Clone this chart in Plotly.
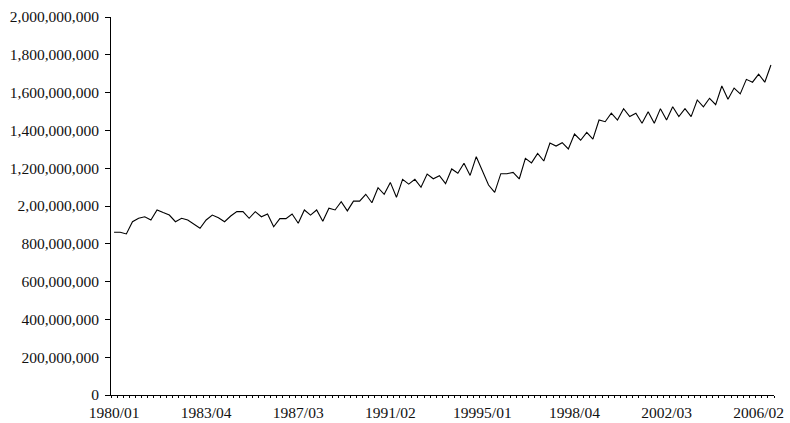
import plotly.graph_objects as go

# Quarterly series, 1980 Q1 .. 2006 Q4 (values in units)
values_millions = [
    861, 861, 852, 917, 935, 943, 926, 979, 965, 952,
    917, 935, 926, 905, 882, 926, 952, 938, 917, 947,
    970, 970, 935, 970, 943, 958, 890, 933, 933, 958,
    909, 979, 952, 979, 919, 988, 979, 1023, 974, 1026,
    1026, 1062, 1017, 1097, 1062, 1125, 1046, 1141, 1116, 1141,
    1099, 1169, 1144, 1160, 1118, 1196, 1173, 1226, 1162, 1261,
    1185, 1111, 1072, 1171, 1171, 1178, 1143, 1252, 1228, 1278,
    1238, 1333, 1317, 1335, 1302, 1381, 1348, 1390, 1354, 1455,
    1446, 1491, 1455, 1515, 1473, 1491, 1438, 1499, 1438, 1515,
    1455, 1525, 1473, 1515, 1473, 1561, 1525, 1570, 1536, 1635,
    1565, 1624, 1593, 1670, 1655, 1698, 1655, 1746,
]
values = [v * 1_000_000 for v in values_millions]
quarters = [f"{1980 + i // 4}/{i % 4 + 1:02d}" for i in range(len(values))]
x_index = list(range(len(values)))

x_tick_index = [0, 15, 30, 45, 60, 75, 90, 105]
x_tick_labels = ["1980/01", "1983/04", "1987/03", "1991/02", "19995/01",
                 "1998/04", "2002/03", "2006/02"]

y_tick_values = [0, 200_000_000, 400_000_000, 600_000_000, 800_000_000,
                 1_000_000_000, 1_200_000_000, 1_400_000_000, 1_600_000_000,
                 1_800_000_000, 2_000_000_000]
y_tick_labels = ["0", "200,000,000", "400,000,000", "600,000,000", "800,000,000",
                 "2,00,000,000", "1,200,000,000", "1,400,000,000", "1,600,000,000",
                 "1,800,000,000", "2,000,000,000"]

fig = go.Figure()
fig.add_trace(go.Scatter(
    x=x_index, y=values, mode="lines",
    line=dict(color="black", width=1.1),
    text=quarters, hoverinfo="text+y",
))

font = dict(family="Liberation Serif, Times New Roman, serif", size=15.5, color="#111111")

fig.update_layout(
    width=790, height=423,
    margin=dict(l=111, r=16, t=17, b=28),
    paper_bgcolor="white", plot_bgcolor="white",
    showlegend=False,
    font=font,
    xaxis=dict(
        range=[-0.5, len(values) - 0.5],
        tickmode="array", tickvals=x_tick_index, ticktext=x_tick_labels,
        ticks="", showgrid=False, zeroline=False, automargin=False,
        showline=True, linecolor="black", linewidth=1,
        tickfont=font, ticklabelstandoff=3,
        minor=dict(ticks="outside", tick0=-0.5, dtick=1, ticklen=2,
                   tickcolor="black", tickwidth=1, showgrid=False),
    ),
    yaxis=dict(
        range=[0, 2_000_000_000],
        tickmode="array", tickvals=y_tick_values, ticktext=y_tick_labels,
        ticks="outside", ticklen=5, tickcolor="black", tickwidth=1,
        showgrid=False, zeroline=False, automargin=False,
        showline=True, linecolor="black", linewidth=1,
        tickfont=font, ticklabelstandoff=3,
    ),
)

fig.write_html(
    "out.html",
    config={"displayModeBar": False},
    post_script="document.body.style.margin='0';document.body.style.overflow='hidden';",
)
